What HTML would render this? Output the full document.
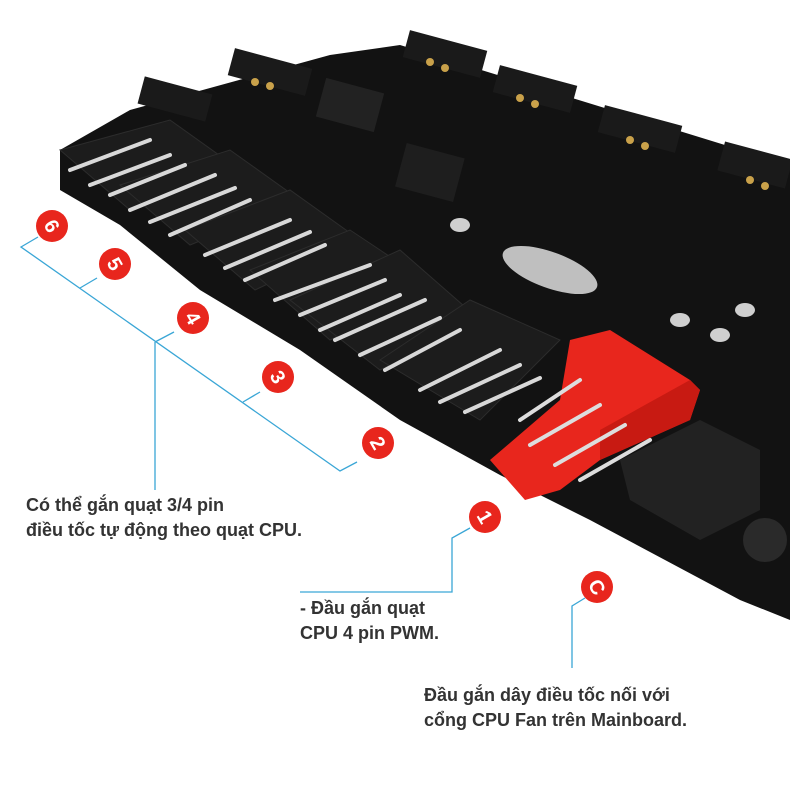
<!DOCTYPE html>
<html><head><meta charset="utf-8"><style>
html,body{margin:0;padding:0;background:#fff;}
.t{position:absolute;font-family:"Liberation Sans","DejaVu Sans",sans-serif;font-weight:bold;color:#333;font-size:18px;line-height:25px;}
</style></head><body>
<div style="position:relative;width:790px;height:790px;overflow:hidden;">
<svg width="790" height="790" viewBox="0 0 790 790" style="position:absolute;left:0;top:0">
<polygon points="60,150 130,110 330,55 400,45 790,165 790,620 740,600 590,520 500,475 400,420 300,350 200,290 120,225 60,190" fill="#121212"/>
<g fill="#1c1c1c" stroke="#2c2c2c">
<polygon points="60,150 170,120 240,170 130,210"/>
<polygon points="120,185 230,150 300,200 190,245"/>
<polygon points="185,230 290,190 360,240 255,290"/>
<polygon points="250,270 350,230 440,290 330,340"/>
<polygon points="290,300 400,250 480,320 380,370"/>
<polygon points="380,360 470,300 560,340 480,420"/>
</g>
<g stroke="#d8d8d8" stroke-width="4" stroke-linecap="round">
<line x1="70" y1="170" x2="150" y2="140"/><line x1="90" y1="185" x2="170" y2="155"/><line x1="110" y1="195" x2="185" y2="165"/>
<line x1="130" y1="210" x2="215" y2="175"/><line x1="150" y1="222" x2="235" y2="188"/><line x1="170" y1="235" x2="250" y2="200"/>
<line x1="205" y1="255" x2="290" y2="220"/><line x1="225" y1="268" x2="310" y2="232"/><line x1="245" y1="280" x2="325" y2="245"/>
<line x1="275" y1="300" x2="370" y2="265"/><line x1="300" y1="315" x2="385" y2="280"/><line x1="320" y1="330" x2="400" y2="295"/>
<line x1="335" y1="340" x2="425" y2="300"/><line x1="360" y1="355" x2="440" y2="318"/><line x1="385" y1="370" x2="460" y2="330"/>
<line x1="420" y1="390" x2="500" y2="350"/><line x1="440" y1="402" x2="520" y2="365"/><line x1="465" y1="412" x2="540" y2="378"/>
</g>
<g fill="#1a1a1a">
<rect x="230" y="58" width="80" height="28" transform="rotate(15 270 72)"/>
<rect x="140" y="85" width="70" height="28" transform="rotate(15 175 99)"/>
<rect x="405" y="40" width="80" height="28" transform="rotate(15 445 54)"/>
<rect x="495" y="75" width="80" height="28" transform="rotate(15 535 89)"/>
<rect x="600" y="115" width="80" height="28" transform="rotate(15 640 129)"/>
<rect x="720" y="150" width="70" height="30" transform="rotate(15 755 165)"/>
</g>
<g fill="#c9a14a">
<circle cx="255" cy="82" r="4"/><circle cx="270" cy="86" r="4"/><circle cx="430" cy="62" r="4"/><circle cx="445" cy="68" r="4"/>
<circle cx="520" cy="98" r="4"/><circle cx="535" cy="104" r="4"/><circle cx="630" cy="140" r="4"/><circle cx="645" cy="146" r="4"/>
<circle cx="750" cy="180" r="4"/><circle cx="765" cy="186" r="4"/>
</g>
<rect x="320" y="85" width="60" height="40" fill="#222" transform="rotate(15 350 105)"/>
<rect x="400" y="150" width="60" height="45" fill="#1e1e1e" transform="rotate(15 430 172)"/>
<ellipse cx="550" cy="270" rx="50" ry="18" fill="#bfbfbf" transform="rotate(20 550 270)"/>
<g fill="#cfcfcf"><ellipse cx="460" cy="225" rx="10" ry="7"/><ellipse cx="680" cy="320" rx="10" ry="7"/><ellipse cx="720" cy="335" rx="10" ry="7"/><ellipse cx="745" cy="310" rx="10" ry="7"/></g>
<polygon points="490,460 560,400 570,340 610,330 690,380 700,390 690,420 600,460 560,490 525,500" fill="#e8261d"/>
<polygon points="600,460 690,420 700,390 690,380 600,430" fill="#c81a12"/>
<g stroke="#ddd" stroke-width="4" stroke-linecap="round">
<line x1="520" y1="420" x2="580" y2="380"/><line x1="530" y1="445" x2="600" y2="405"/><line x1="555" y1="465" x2="625" y2="425"/><line x1="580" y1="480" x2="650" y2="440"/>
</g>
<polygon points="620,460 700,420 760,450 760,510 700,540 630,500" fill="#222"/>
<circle cx="765" cy="540" r="22" fill="#2a2a2a"/>
<g stroke="#3aa6d6" stroke-width="1.3" fill="none">
<polyline points="38,237 21,247 340,471 357,462"/>
<line x1="80" y1="288" x2="97" y2="278"/>
<line x1="155" y1="342" x2="174" y2="332"/>
<line x1="155" y1="342" x2="155" y2="490"/>
<line x1="243" y1="402" x2="260" y2="392"/>
<polyline points="470,528 452,538 452,592 300,592"/>
<polyline points="585,598 572,606 572,668"/>
</g>
<g fill="#e8261d">
<circle cx="52" cy="226" r="16"/><circle cx="115" cy="264" r="16"/><circle cx="193" cy="318" r="16"/>
<circle cx="278" cy="377" r="16"/><circle cx="378" cy="443" r="16"/><circle cx="485" cy="517" r="16"/><circle cx="597" cy="587" r="16"/>
</g>
<g fill="#fff" font-family="Liberation Sans" font-weight="bold" font-size="20" text-anchor="middle">
<text x="52" y="233" transform="rotate(60 52 226)">6</text>
<text x="115" y="271" transform="rotate(60 115 264)">5</text>
<text x="193" y="325" transform="rotate(60 193 318)">4</text>
<text x="278" y="384" transform="rotate(60 278 377)">3</text>
<text x="378" y="450" transform="rotate(60 378 443)">2</text>
<text x="485" y="524" transform="rotate(60 485 517)">1</text>
<text x="597" y="594" transform="rotate(60 597 587)">C</text>
</g>
</svg>
<div class="t" style="left:26px;top:493px;">Có thể gắn quạt 3/4 pin<br>điều tốc tự động theo quạt CPU.</div>
<div class="t" style="left:300px;top:596px;">- Đầu gắn quạt<br>CPU 4 pin PWM.</div>
<div class="t" style="left:424px;top:683px;">Đầu gắn dây điều tốc nối với<br>cổng CPU Fan trên Mainboard.</div>
</div>
</body></html>
